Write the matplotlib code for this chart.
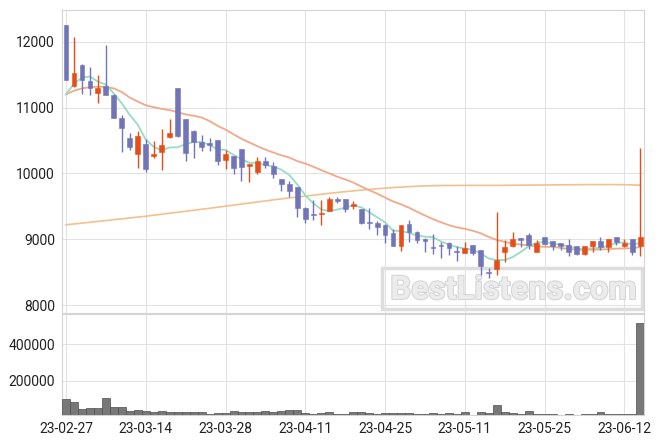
import matplotlib
matplotlib.use("Agg")
import matplotlib.pyplot as plt
import matplotlib.patheffects as pe
from matplotlib.patches import Rectangle
import numpy as np

plt.rcParams["font.family"] = ["Roboto", "DejaVu Sans"]
plt.rcParams["font.size"] = 10

# daily OHLC (trading days 23-02-27 .. 23-06-14)
opens = [12250, 11320, 11650, 11410, 11220, 11330, 11195, 10845, 10540, 10290,
         10450, 10260, 10320, 10545, 11290, 10820, 10650, 10480, 10465, 10500,
         10210, 10265, 10365, 10110, 10025, 10190, 10110, 9915, 9840, 9790,
         9480, 9380, 9380, 9435, 9610, 9605, 9500, 9455, 9245, 9250,
         9210, 9095, 8905, 9235, 9105, 9005, 8870, 8905, 8940, 8810,
         8795, 8910, 8835, 8500, 8555, 8800, 8890, 9015, 9065, 8805,
         9030, 8970, 8940, 8910, 8890, 8770, 8900, 8970, 8885, 9030,
         8900, 9000, 8890]
highs = [12260, 12070, 11660, 11610, 11490, 11950, 11200, 10890, 10615, 10640,
         10525, 10495, 10680, 10820, 11290, 10820, 10655, 10590, 10535, 10505,
         10350, 10265, 10365, 10150, 10245, 10255, 10175, 9915, 9880, 9795,
         9485, 9595, 9595, 9645, 9645, 9610, 9585, 9460, 9475, 9270,
         9230, 9155, 9220, 9295, 9130, 9025, 9075, 8955, 8955, 8905,
         8965, 8910, 8835, 8565, 9410, 8990, 9105, 9020, 9090, 8990,
         9030, 8975, 8945, 9000, 8890, 8895, 8975, 9030, 9010, 9035,
         9000, 9000, 10380]
lows = [11420, 11310, 11210, 11190, 11075, 11190, 10840, 10330, 10355, 10075,
        10015, 10235, 10050, 10540, 10555, 10185, 10240, 10335, 10335, 10120,
        10060, 9995, 9880, 9875, 9985, 10080, 9925, 9725, 9645, 9340,
        9250, 9290, 9215, 9430, 9545, 9415, 9465, 9225, 9150, 9070,
        8940, 8895, 8820, 8955, 8940, 8800, 8780, 8720, 8755, 8675,
        8790, 8755, 8460, 8410, 8455, 8660, 8880, 8880, 8850, 8800,
        8910, 8835, 8840, 8740, 8760, 8760, 8800, 8835, 8805, 8910,
        8880, 8755, 8745]
closes = [11425, 11530, 11425, 11290, 11300, 11195, 10845, 10690, 10400, 10560,
          10065, 10300, 10425, 10620, 10570, 10305, 10470, 10405, 10425, 10195,
          10290, 10085, 10090, 10135, 10190, 10125, 9985, 9845, 9725, 9475,
          9310, 9370, 9390, 9605, 9580, 9460, 9535, 9245, 9240, 9190,
          9070, 8905, 9215, 9105, 8990, 8980, 8865, 8895, 8860, 8805,
          8865, 8785, 8595, 8490, 8680, 8880, 9000, 8990, 8915, 8950,
          8935, 8890, 8890, 8800, 8770, 8895, 8975, 8880, 9005, 8960,
          8940, 8800, 9030]
volumes = [97000, 81000, 44000, 48000, 48000, 103000, 53000, 53000, 33000, 38500,
           33000, 27500, 33000, 25700, 25700, 25700, 25700, 25700, 14700, 20000,
           20000, 33000, 27500, 27500, 27500, 33000, 27500, 33000, 38500, 38500,
           20000, 14700, 20000, 27500, 14700, 14700, 27500, 27500, 20000, 14700,
           20000, 20000, 20000, 20000, 14700, 14700, 20000, 14700, 20000, 14700,
           27500, 9000, 27500, 20000, 66000, 27500, 20000, 14700, 33000, 14700,
           14700, 14700, 9000, 14700, 9000, 14700, 14700, 27500, 14700, 14700,
           14700, 14700, 516000]

# moving averages as drawn on the chart
ma5 = [11200, 11360, 11455, 11470, 11394, 11348, 11211, 11064, 10886, 10738,
       10512, 10403, 10350, 10394, 10396, 10444, 10478, 10474, 10435, 10360,
       10357, 10280, 10217, 10159, 10158, 10125, 10105, 10056, 9974, 9831,
       9668, 9545, 9454, 9430, 9451, 9481, 9514, 9485, 9412, 9334,
       9256, 9130, 9124, 9097, 9057, 9039, 9031, 8967, 8918, 8881,
       8858, 8842, 8782, 8708, 8683, 8686, 8729, 8808, 8893, 8947,
       8958, 8936, 8916, 8893, 8857, 8849, 8866, 8864, 8905, 8943,
       8952, 8917, 8947]
ma20 = [11200, 11255, 11290, 11310, 11315, 11312, 11290, 11235, 11150, 11090,
        11035, 11005, 10980, 10960, 10930, 10895, 10875, 10848, 10795, 10722,
        10665, 10593, 10526, 10469, 10413, 10360, 10317, 10274, 10241, 10186,
        10149, 10102, 10050, 10000, 9950, 9908, 9861, 9803, 9744, 9694,
        9633, 9574, 9530, 9478, 9418, 9361, 9305, 9258, 9214, 9181,
        9159, 9129, 9090, 9034, 8989, 8960, 8933, 8920, 8904, 8892,
        8885, 8885, 8868, 8853, 8842, 8838, 8843, 8843, 8850, 8858,
        8861, 8862, 8884]
ma_long = [9220, 9232, 9245, 9258, 9271, 9284, 9297, 9310, 9323, 9336,
           9350, 9365, 9380, 9395, 9410, 9425, 9440, 9455, 9470, 9486,
           9502, 9518, 9534, 9550, 9566, 9582, 9598, 9613, 9627, 9641,
           9655, 9669, 9683, 9697, 9710, 9722, 9734, 9746, 9757, 9767,
           9776, 9784, 9792, 9799, 9805, 9810, 9813, 9815, 9816, 9817,
           9817, 9818, 9818, 9818, 9818, 9819, 9820, 9821, 9822, 9823,
           9824, 9825, 9826, 9827, 9828, 9829, 9830, 9830, 9830, 9829,
           9828, 9825, 9820]

tick_labels = ["23-02-27", "23-03-14", "23-03-28", "23-04-11",
               "23-04-25", "23-05-11", "23-05-25", "23-06-12"]
tick_pos = list(range(0, 80, 10))

UP = "#e64d17"
DOWN = "#7174b8"
GRID = "#e2e2e2"
SPINE = "#d4d4d4"

x = np.arange(len(closes))
o = np.array(opens)
c = np.array(closes)
colors = [UP if cc >= oo else DOWN for oo, cc in zip(o, c)]
bottoms = np.minimum(o, c)
heights = np.maximum(np.abs(c - o), 18)

fig = plt.figure(figsize=(6.63, 4.44), dpi=100)
ax = fig.add_axes([0.0935, 0.295, 0.8778, 0.6824])
axv = fig.add_axes([0.0935, 0.0653, 0.8778, 0.2275], sharex=ax)

# watermark
ax.add_patch(Rectangle((0.55, 0.013), 0.446, 0.136, transform=ax.transAxes,
                       fill=False, edgecolor="#dddddd", linewidth=2.5, zorder=0.5))
ax.text(0.776, 0.076, "BestListens.com", transform=ax.transAxes,
        ha="center", va="center", fontsize=23.5, fontweight="bold",
        color="#ececec", zorder=0.6,
        path_effects=[pe.withStroke(linewidth=1.5, foreground="#d4d4d4")])

ax.plot(x, ma_long, color="#f3c08e", linewidth=1.2, zorder=2)
ax.plot(x, ma20, color="#f1a98a", linewidth=1.3, zorder=2)
ax.plot(x, ma5, color="#97dcc3", linewidth=1.3, zorder=2)

ax.vlines(x, lows, highs, colors=colors, linewidth=1.0, zorder=3)
ax.bar(x, heights, bottom=bottoms, width=0.6, color=colors,
       edgecolor=colors, linewidth=0.4, zorder=4)

axv.bar(x, volumes, width=1.0, color="#787878", edgecolor="#4f4f4f",
        linewidth=0.5, zorder=3)

ax.set_xlim(-0.5, 72.45)
ax.set_ylim(7880, 12480)
ax.set_yticks([8000, 9000, 10000, 11000, 12000])
axv.set_ylim(11000, 565000)
axv.set_yticks([200000, 400000])
axv.set_xticks(tick_pos)
axv.set_xticklabels(tick_labels)

for a in (ax, axv):
    a.grid(True, color=GRID, linewidth=0.8, zorder=0)
    a.set_axisbelow(True)
    for s in a.spines.values():
        s.set_color(SPINE)
        s.set_linewidth(0.8)
    a.tick_params(length=0, pad=5, labelsize=10, labelcolor="#222222")
ax.tick_params(labelbottom=False)

fig.savefig("out.png", dpi=100)
